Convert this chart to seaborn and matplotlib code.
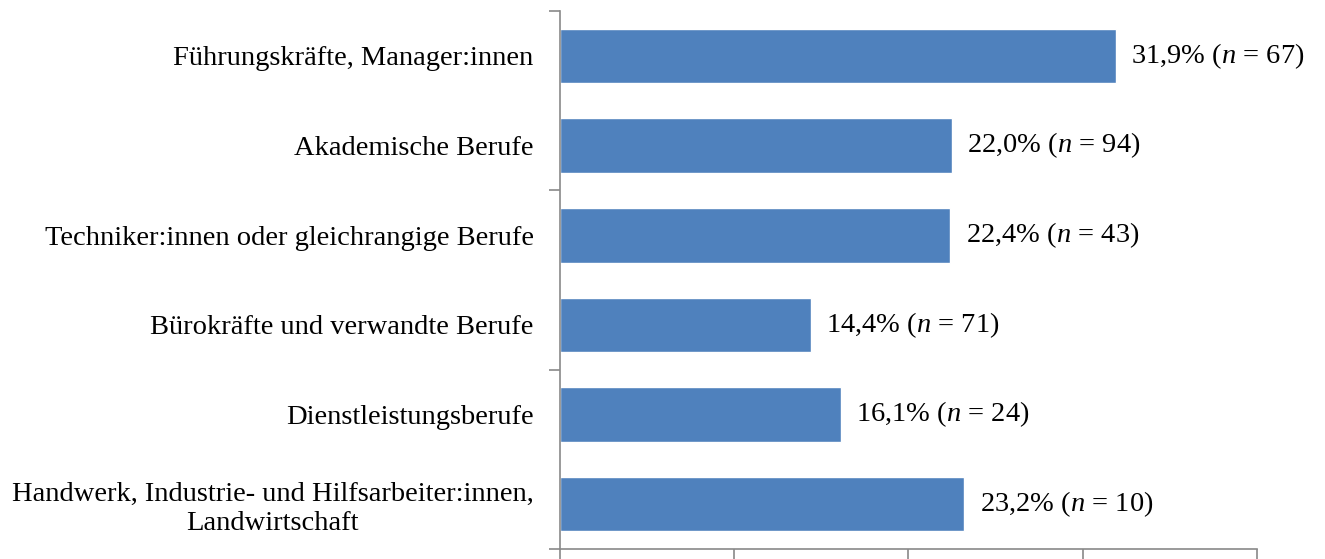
import matplotlib
matplotlib.use('Agg')
import matplotlib.pyplot as plt
import seaborn as sns
import pandas as pd

categories = ['Führungskräfte, Manager:innen',
              'Akademische Berufe',
              'Techniker:innen oder gleichrangige Berufe',
              'Bürokräfte und verwandte Berufe',
              'Dienstleistungsberufe',
              'Handwerk, Industrie- und Hilfsarbeiter:innen,\nLandwirtschaft']
# bar lengths
values = [31.9, 22.5, 22.4, 14.4, 16.1, 23.2]
# percentages as printed next to the bars
shown_pct = ['31,9', '22,0', '22,4', '14,4', '16,1', '23,2']
counts = [67, 94, 43, 71, 24, 10]

df = pd.DataFrame({'Beruf': categories, 'Anteil': values})

sns.set_style('white')
plt.rcParams['font.family'] = ['Liberation Serif', 'DejaVu Serif']
plt.rcParams['mathtext.fontset'] = 'custom'
plt.rcParams['mathtext.rm'] = 'Liberation Serif'
plt.rcParams['mathtext.it'] = 'Liberation Serif:italic'
plt.rcParams['text.color'] = 'black'

fig = plt.figure(figsize=(13.25, 5.59), dpi=100)
ax = fig.add_axes([0.4226, 0.018, 0.5261, 0.962])

sns.barplot(data=df, x='Anteil', y='Beruf', color='#4F81BD', width=0.61,
            saturation=1, ax=ax, orient='h')

labels = [f'{p}% ($n$ = {n})' for p, n in zip(shown_pct, counts)]
ax.bar_label(ax.containers[0], labels=labels, padding=11, fontsize=20.5,
             color='black')

ax.set_xlim(0, 40)
ax.set_ylim(5.5, -0.5)
ax.set_xticks([0, 10, 20, 30, 40])
ax.set_xticklabels([])
ax.set_yticks([-0.5, 1.5, 3.5, 5.5], minor=False)
ax.set_yticklabels([])
ax.set_yticks(range(len(categories)), minor=True)
ax.set_yticklabels(categories, minor=True, fontsize=20.5, color='black',
                   ha='right', multialignment='center')
ax.tick_params(axis='y', which='minor', left=True, length=0, pad=19)
ax.tick_params(axis='both', which='major', bottom=True, left=True, length=8,
               width=1.2, color='#898989', direction='out')
ax.set_xlabel('')
ax.set_ylabel('')

for side in ['top', 'right']:
    ax.spines[side].set_visible(False)
for side in ['left', 'bottom']:
    ax.spines[side].set_color('#898989')
    ax.spines[side].set_linewidth(1.2)

fig.savefig('out.png', dpi=100)
